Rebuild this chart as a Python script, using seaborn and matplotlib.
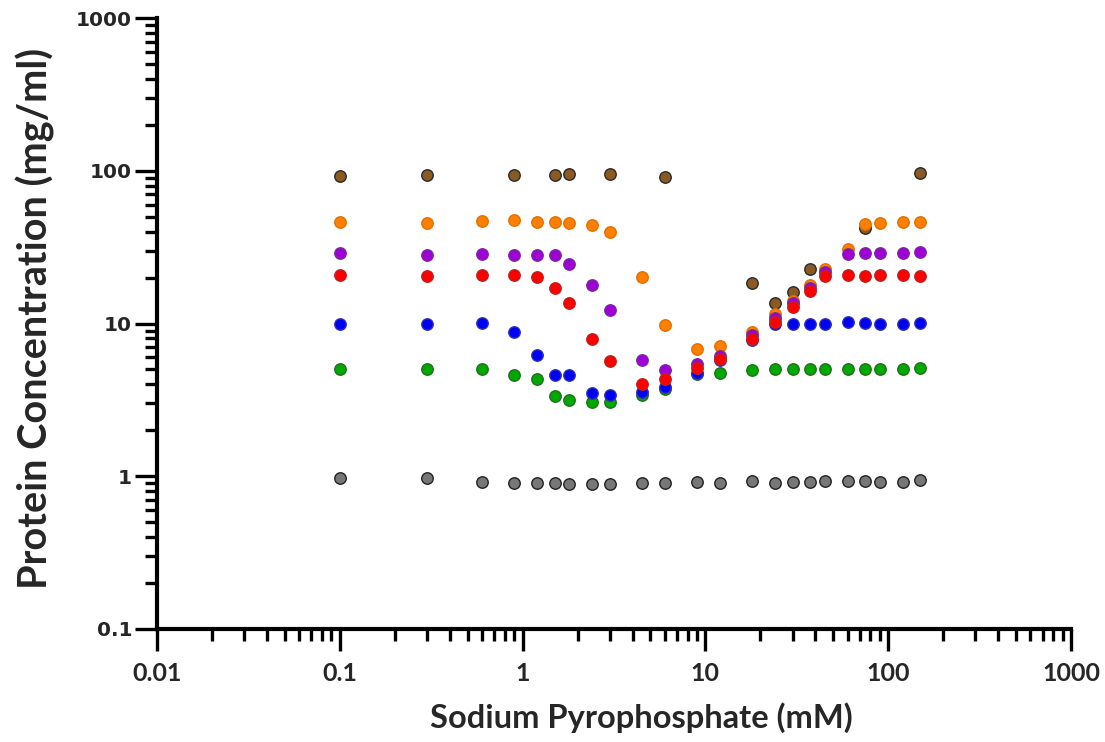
import numpy as np
import pandas as pd
import matplotlib
matplotlib.use("Agg")
import matplotlib.pyplot as plt
from matplotlib.ticker import LogLocator, FixedLocator, NullFormatter
import seaborn as sns

# ---- data ----
x_full = [0.1, 0.3, 0.6, 0.9, 1.2, 1.5, 1.8, 2.4, 3, 4.5, 6, 9, 12,
          18, 24, 30, 37.5, 45, 60, 75, 90, 120, 150]

gray_y = [0.97, 0.97, 0.92, 0.91, 0.91, 0.90, 0.89, 0.89, 0.89, 0.91, 0.91, 0.92, 0.91,
          0.93, 0.90, 0.92, 0.92, 0.93, 0.93, 0.93, 0.92, 0.92, 0.94]
green_y = [5.0, 5.0, 5.0, 4.63, 4.3, 3.34, 3.18, 3.04, 3.06, 3.39, 3.75, 4.7, 4.77,
           4.94, 5.07, 5.07, 5.07, 5.0, 5.0, 5.0, 5.07, 5.07, 5.15]
blue_y = [9.9, 10.0, 10.1, 8.8, 6.2, 4.63, 4.58, 3.51, 3.39, 3.56, 3.84, 4.75, 5.8,
          7.8, 10.0, 10.0, 9.9, 9.9, 10.2, 10.1, 9.9, 9.9, 10.1]
red_y = [20.7, 20.4, 20.7, 20.9, 20.2, 17.1, 13.6, 7.97, 5.69, 4.04, 4.32, 5.15, 5.9,
         7.9, 10.2, 12.8, 16.3, 20.5, 20.7, 20.4, 20.7, 20.7, 20.5]
purple_y = [29.0, 28.3, 28.4, 28.3, 28.3, 28.3, 24.4, 17.9, 12.2, 5.75, 4.99, 5.47, 6.1,
            8.4, 10.8, 13.6, 17.2, 21.6, 28.4, 28.8, 29.0, 29.0, 29.5]
orange_y = [46.0, 45.3, 46.7, 47.6, 46.2, 46.2, 45.5, 44.0, 40.0, 20.1, 9.85, 6.78, 7.13,
            8.8, 11.6, 14.1, 17.8, 22.9, 30.6, 44.7, 45.5, 46.0, 46.0]

brown_x = [0.1, 0.3, 0.9, 1.5, 1.8, 3, 6, 18, 24, 30, 37.5, 75, 150]
brown_y = [92.0, 93.5, 93.5, 94.5, 95.0, 95.0, 91.0, 18.3, 13.6, 16.2, 22.6, 42.5, 96.0]

x_ticks = [0.01, 0.1, 1, 10, 100, 1000]
x_tick_labels = ["0.01", "0.1", "1", "10", "100", "1000"]
y_ticks = [0.1, 1, 10, 100, 1000]
y_tick_labels = ["0.1", "1", "10", "100", "1000"]

# (name, x, y, face, edge) in drawing order (bottom -> top)
series = [
    ("brown", brown_x, brown_y, "#8B5A22", "#2a2a2a"),
    ("orange", x_full, orange_y, "#FF8000", "#E07000"),
    ("green", x_full, green_y, "#00A800", "#207020"),
    ("blue", x_full, blue_y, "#0000F5", "#3030B0"),
    ("purple", x_full, purple_y, "#A000D8", "#7A2A9A"),
    ("red", x_full, red_y, "#FF0000", "#C02020"),
    ("gray", x_full, gray_y, "#777777", "#222222"),
]

sns.set_style("white")
plt.rcParams['font.family'] = ['Lato', 'DejaVu Sans']

fig = plt.figure(figsize=(11.05, 7.42), dpi=100)
ax = fig.add_axes([0.1421, 0.1523, 0.9692 - 0.1421, 0.9757 - 0.1523])

for name, xs, ys, face, edge in series:
    df = pd.DataFrame({"x": xs, "y": ys})
    sns.scatterplot(data=df, x="x", y="y", ax=ax, s=68, color=face,
                    edgecolor=edge, linewidth=1.0, legend=False, zorder=3,
                    clip_on=False)

ax.set_xscale("log")
ax.set_yscale("log")
ax.set_xlim(0.01, 1000)
ax.set_ylim(0.1, 1000)

for side in ["top", "right"]:
    ax.spines[side].set_visible(False)
for side in ["left", "bottom"]:
    ax.spines[side].set_linewidth(3.0)
    ax.spines[side].set_color("black")

ax.xaxis.set_major_locator(FixedLocator(x_ticks))
ax.set_xticklabels(x_tick_labels)
ax.yaxis.set_major_locator(FixedLocator(y_ticks))
ax.set_yticklabels(y_tick_labels)
ax.xaxis.set_minor_locator(LogLocator(base=10, subs=np.arange(2, 10)))
ax.yaxis.set_minor_locator(LogLocator(base=10, subs=np.arange(2, 10)))
ax.xaxis.set_minor_formatter(NullFormatter())
ax.yaxis.set_minor_formatter(NullFormatter())

ax.tick_params(axis="both", which="major", direction="out", length=16, width=2.4,
               color="black", bottom=True, left=True)
ax.tick_params(axis="both", which="minor", direction="out", length=8.5, width=2.4,
               color="black", bottom=True, left=True)
ax.tick_params(axis="x", which="major", labelsize=18, pad=8)
ax.tick_params(axis="y", which="major", labelsize=14.5, pad=2)
for lab in ax.get_xticklabels():
    lab.set_fontweight("bold")
    lab.set_family(["Lato", "DejaVu Sans"])
for lab in ax.get_yticklabels():
    lab.set_fontweight("bold")
    lab.set_family(["DejaVu Sans"])

ax.set_xlabel("Sodium Pyrophosphate (mM)", fontsize=23.5, fontweight="bold",
              va="center", ha="center")
ax.xaxis.set_label_coords(0.5295, -0.1457)
ax.set_ylabel("Protein Concentration (mg/ml)", fontsize=28.5, fontweight="bold",
              va="center", ha="center")
ax.yaxis.set_label_coords(-0.133, 0.509)
ax.grid(False)

fig.savefig("out.png", dpi=100)
